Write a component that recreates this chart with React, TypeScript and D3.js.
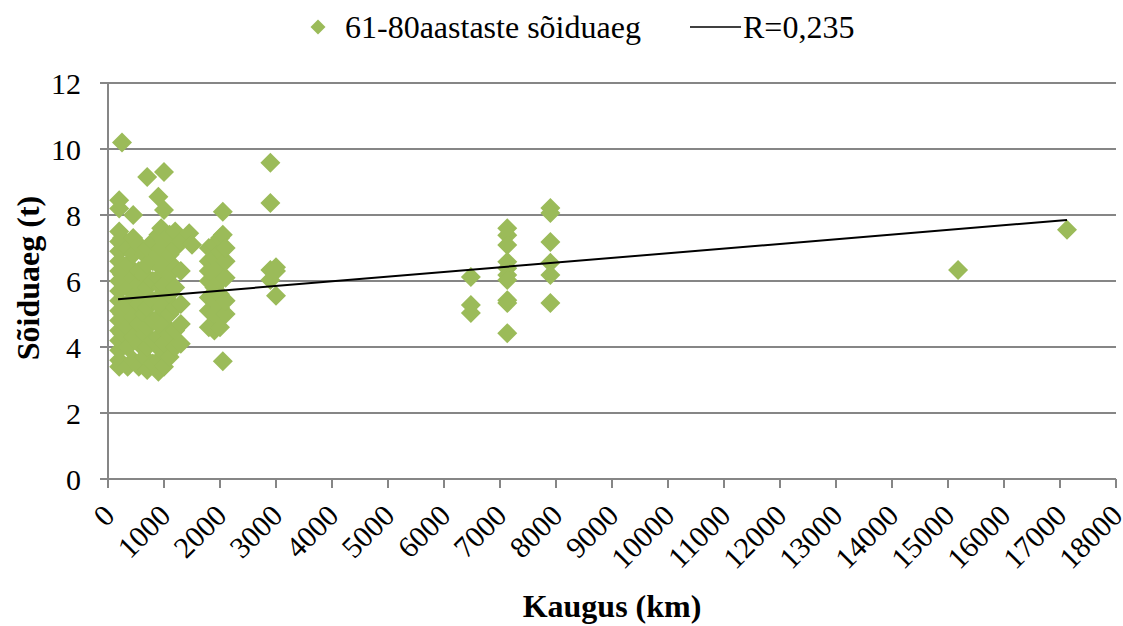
import React from 'react';
import * as d3 from 'd3';

// 61-80 aastaste sõiduaeg: kaugus (km) ja sõiduaeg (t), loetud pildilt
const distances = [
  200, 200, 200, 200, 200, 200, 200, 200, 200, 200, 200, 200, 200, 200, 200, 200, 200, 250,
  250, 250, 250, 250, 250,
  350, 350, 350, 350, 350, 350, 350,
  450, 450, 450, 450, 450, 450, 450, 450,
  550, 550, 550, 550, 550, 550, 550,
  650, 650, 650, 650, 650, 650,
  700, 700, 700, 700, 700, 700, 700, 700,
  800, 800, 800, 800, 800, 800, 800,
  900, 900, 900, 900, 900, 900, 900, 900, 900,
  950, 950, 950, 950, 950, 950, 950,
  1000, 1000, 1000, 1000, 1000, 1000, 1000, 1000, 1000,
  1100, 1100, 1100, 1100, 1100, 1100, 1100,
  1200, 1200, 1200, 1200, 1200, 1200, 1200,
  1300, 1300, 1300, 1300, 1300,
  1450, 1500,
  1800, 1800, 1800, 1800, 1800, 1800, 1800,
  1900, 1900, 1900, 1900, 1900, 1900, 1900,
  2000, 2000, 2000, 2000, 2000, 2000, 2000,
  2050, 2050, 2050,
  2100, 2100, 2100, 2100, 2100,
  2900, 2900, 2900, 2900, 3000, 3000, 3000,
  6480, 6480, 6480,
  7130, 7130, 7130, 7130, 7130, 7130, 7130, 7130, 7130, 7130,
  7900, 7900, 7900, 7900, 7900, 7900,
  15180, 17125,
];

const times = [
  3.4, 3.6, 3.9, 4.2, 4.5, 4.8, 5.1, 5.4, 5.7, 6.0, 6.3, 6.6, 6.9, 7.2, 7.5, 8.2, 8.45, 10.2,
  3.5, 4.4, 5.0, 6.2, 7.3,
  3.4, 4.0, 4.6, 5.2, 5.8, 6.5, 7.0,
  3.6, 4.3, 4.9, 5.5, 6.1, 6.8, 7.3, 8.0,
  3.4, 4.1, 4.7, 5.3, 5.9, 6.3, 7.1,
  3.7, 4.4, 5.0, 5.6, 6.2, 6.8,
  3.3, 4.0, 4.6, 5.2, 5.8, 6.5, 7.0, 9.15,
  3.5, 4.2, 4.8, 5.4, 6.0, 6.6, 7.2,
  3.25, 3.6, 4.3, 4.9, 5.5, 6.1, 6.8, 7.4, 8.55,
  3.9, 4.6, 5.2, 5.8, 6.4, 7.0, 7.6,
  3.4, 4.1, 4.7, 5.3, 5.9, 6.5, 7.2, 8.15, 9.3,
  3.7, 4.4, 5.0, 5.6, 6.2, 6.8, 7.4,
  4.0, 4.5, 5.2, 5.8, 6.4, 7.0, 7.5,
  4.1, 4.7, 5.3, 6.3, 7.2,
  7.45, 7.1,
  4.6, 5.1, 5.5, 6.0, 6.3, 6.6, 7.0,
  4.5, 5.0, 5.4, 5.8, 6.2, 6.7, 7.1,
  4.6, 5.2, 5.6, 6.0, 6.5, 6.9, 7.3,
  3.57, 8.1, 7.4,
  5.0, 5.4, 6.1, 6.6, 7.0,
  9.58, 8.36, 6.33, 6.03, 6.42, 5.55, 6.3,
  6.12, 5.27, 5.03,
  7.6, 7.39, 7.09, 6.58, 6.39, 6.18, 6.03, 5.42, 5.33, 4.42,
  8.21, 8.06, 7.18, 6.55, 6.18, 5.33,
  6.33, 7.55,
];

// lineaarne trend (Exceli trendijoon)
const trendStart = [180, 5.45];
const trendEnd = [17125, 7.85];

const xTicks = d3.range(0, 18001, 1000);
const yTicks = [0, 2, 4, 6, 8, 10, 12];

const seriesName = '61-80aastaste sõiduaeg';
const trendName = 'R=0,235';

const W = 1123, H = 626;
const margin = { left: 108, right: 7, top: 83, bottom: 147 };
const green = '#9BBB59';
const grid = '#868686';
const txt = { fontFamily: "'Liberation Serif'" };

export default function App() {
  const x = d3.scaleLinear().domain([0, 18000]).range([margin.left, W - margin.right]);
  const y = d3.scaleLinear().domain([0, 12]).range([H - margin.bottom, margin.top]);

  const diamond = d3.symbol().type(d3.symbolSquare).size(200)();
  const points = distances.map((d, i) => ({ d, t: times[i] }));
  const line = d3.line<number[]>().x(p => x(p[0])).y(p => y(p[1]));

  return (
    <svg width={W} height={H} style={{ position: 'absolute', left: 0, top: 0, background: '#fff' }}>
      {/* legend */}
      <path d={diamond} fill={green} transform="translate(318,27) rotate(45) scale(0.75)" />
      <text x={345} y={38} fontSize={32} style={txt}>{seriesName}</text>
      <line x1={690} x2={741} y1={27} y2={27} stroke="#000" strokeWidth={1.5} />
      <text x={743} y={38} fontSize={32} style={txt}>{trendName}</text>

      {/* gridlines + y axis */}
      {yTicks.map(t => (
        <g key={t}>
          <line x1={margin.left - 8} x2={W - margin.right} y1={y(t)} y2={y(t)} stroke={grid} strokeWidth={2} />
          <text x={81} y={y(t)} dy="0.35em" textAnchor="end" fontSize={30} style={txt}>{t}</text>
        </g>
      ))}
      <line x1={margin.left} x2={margin.left} y1={y(12)} y2={y(0)} stroke={grid} strokeWidth={2} />

      {/* x axis */}
      {xTicks.map(t => (
        <g key={t}>
          <line x1={x(t)} x2={x(t)} y1={y(0)} y2={y(0) + 9} stroke={grid} strokeWidth={2} />
          <text transform={`translate(${x(t) + 1},${y(0) + 31}) rotate(-45)`} textAnchor="end"
            dy="0.35em" fontSize={30} style={txt}>{t}</text>
        </g>
      ))}

      {/* points */}
      {points.map((p, i) => (
        <path key={i} d={diamond} fill={green}
          transform={`translate(${x(p.d)},${y(p.t)}) rotate(45)`} />
      ))}

      {/* trend */}
      <path d={line([trendStart, trendEnd]) || ''} fill="none" stroke="#000" strokeWidth={2} />

      {/* axis titles */}
      <text x={612} y={617} textAnchor="middle" fontSize={32} fontWeight="bold" style={txt}>Kaugus (km)</text>
      <text transform="translate(39,278) rotate(-90)" textAnchor="middle" fontSize={32} fontWeight="bold" style={txt}>Sõiduaeg (t)</text>
    </svg>
  );
}
